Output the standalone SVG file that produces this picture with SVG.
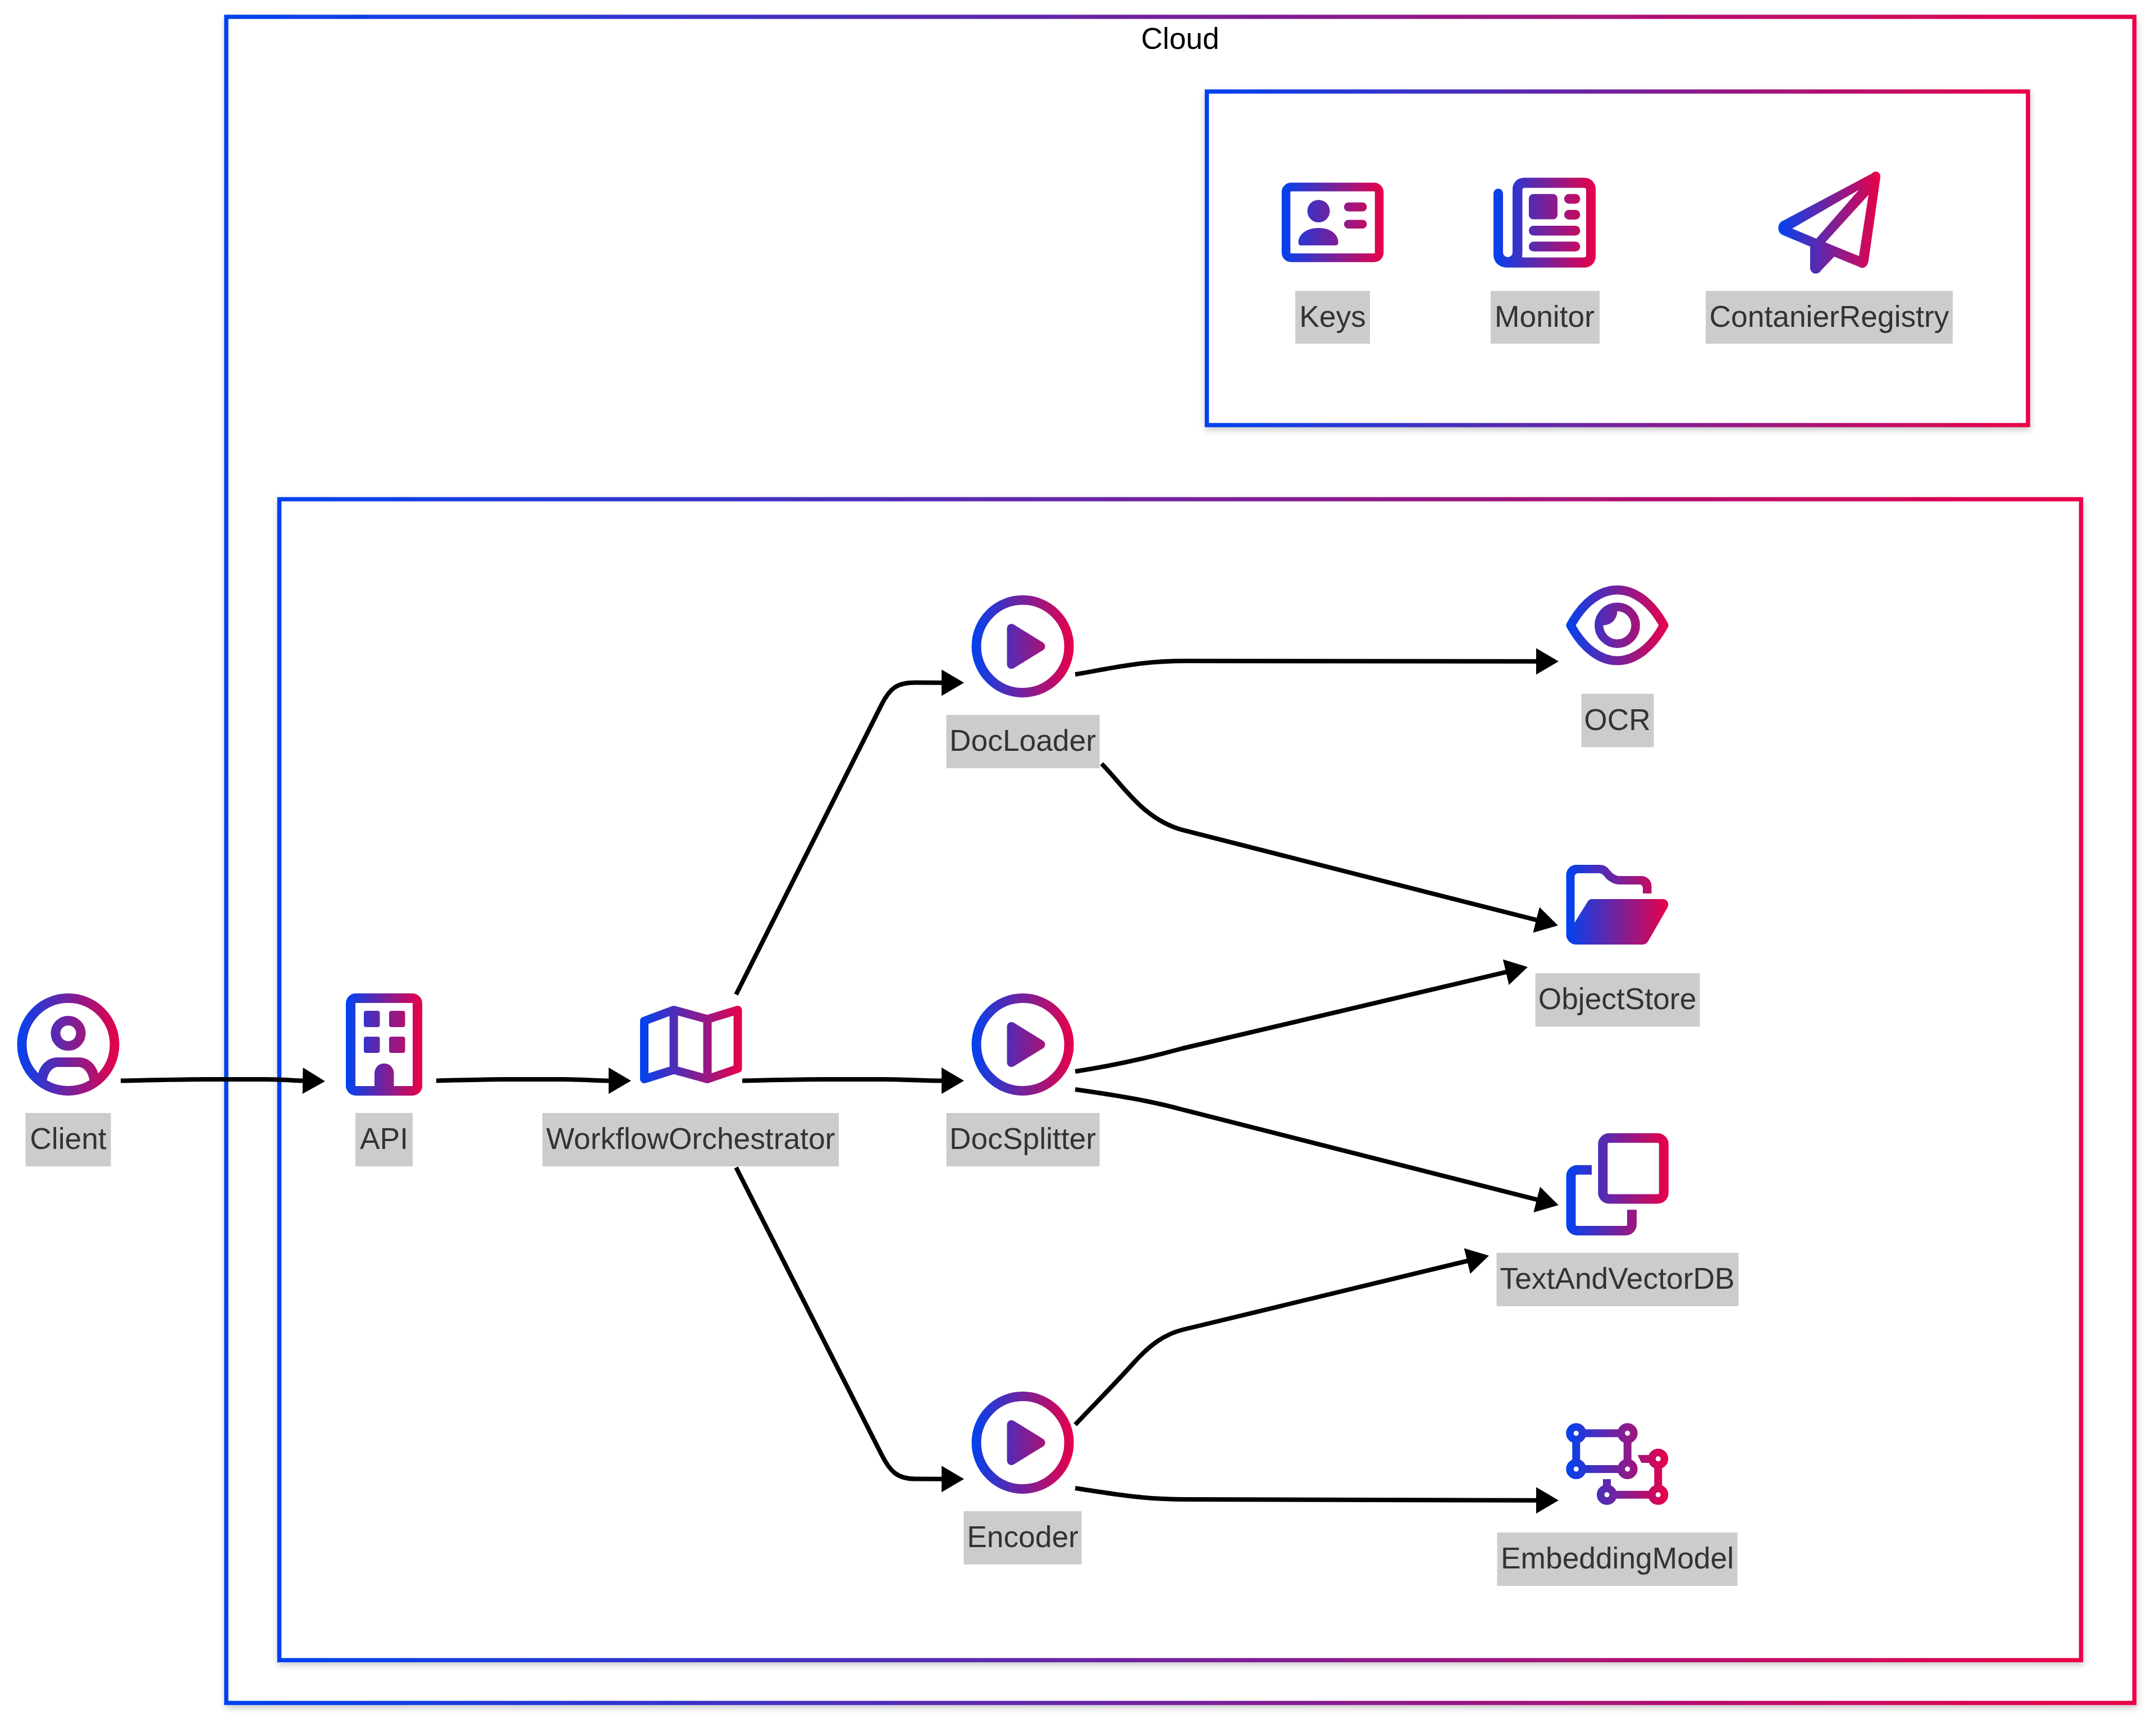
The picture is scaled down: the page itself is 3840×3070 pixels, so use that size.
<svg xmlns="http://www.w3.org/2000/svg" xmlns:xlink="http://www.w3.org/1999/xlink" width="3840" height="3070" viewBox="0 0 3840 3070">
<style>
text{font-family:"Liberation Sans",Arial,sans-serif;font-size:53.33px;text-anchor:middle}
.lb{fill:#ccc}
.lt{fill:#333}
.fr{fill:#fff;stroke:url(#fg);stroke-width:7.5;filter:url(#sh)}
.ed{fill:none;stroke:#000;stroke-width:8;marker-end:url(#ah)}
.s{fill:none;stroke:url(#g);stroke-width:17}
.f{fill:url(#g)}
.e{fill:url(#g);fill-rule:evenodd}
</style>
<defs>
<linearGradient id="fg" x1="0" y1="0" x2="1" y2="0"><stop offset="0" stop-color="#0043f0"/><stop offset="1" stop-color="#ea0048"/></linearGradient>
<linearGradient id="g" gradientUnits="userSpaceOnUse" x1="-91" y1="0" x2="91" y2="0" xlink:href="#fg"/>
<linearGradient id="ga" gradientUnits="userSpaceOnUse" x1="-68" y1="0" x2="68" y2="0" xlink:href="#fg"/>
<filter id="sh" x="-2%" y="-2%" width="104%" height="105%"><feDropShadow dx="1" dy="5" stdDeviation="6" flood-color="#000" flood-opacity=".22"/></filter>
<marker id="ah" markerUnits="userSpaceOnUse" markerWidth="42" markerHeight="48" refX="2" refY="24" orient="auto"><path d="M0 .5L40 24L0 47.500Z" fill="#000"/></marker>
<g id="play"><circle class="s" r="82.500"/><path class="f" d="M-20 -32L32 0L-20 32Z" stroke="url(#g)" stroke-width="16" stroke-linejoin="round"/></g>
</defs>
<rect width="3840" height="3070" fill="#fff"/>
<g id="frames">
<rect class="fr" x="403" y="30" width="3398.500" height="3002.500"/>
<rect class="fr" x="2149.500" y="163" width="1462.500" height="594"/>
<rect class="fr" x="497.500" y="889" width="3209" height="2067.300"/>
<text x="2102" y="86.500" fill="#000">Cloud</text>
</g>
<g id="connectors">
<path class="ed" d="M215 1924.500C270 1923.500 320 1922 370 1922L470 1922C500 1922 520 1924 541 1924.500"/>
<path class="ed" d="M777 1924.500C820 1923.500 860 1922 900 1922L1000 1922C1040 1922 1060 1924.500 1086 1924.500"/>
<path class="ed" d="M1322 1924.500C1370 1923.500 1420 1922 1470 1922L1570 1922C1610 1922 1640 1924.500 1679 1924.500"/>
<path class="ed" d="M1311 1771L1570 1255C1585 1225 1598 1215.500 1630 1215.500L1679 1215.700"/>
<path class="ed" d="M1311 2079L1570 2590C1585 2620 1598 2633.500 1630 2633.500L1679 2633.700"/>
<path class="ed" d="M1915 1201C1980 1190 2030 1177 2110 1177L2738 1177.700"/>
<path class="ed" d="M1962 1360C2002 1400 2035 1458 2106 1478L2738 1638.600"/>
<path class="ed" d="M1915 1908C1980 1898 2040 1885 2106 1867L2684 1730.700"/>
<path class="ed" d="M1915 1940C1985 1950 2050 1960 2110 1977L2739 2136.600"/>
<path class="ed" d="M1915 2537C1950 2500 1985 2465 2020 2426C2050 2393 2075 2376 2106 2368L2615 2245"/>
<path class="ed" d="M1915 2650C1985 2661 2040 2670 2110 2670L2738 2671.700"/>
</g>
<g id="Client" transform="translate(121.500 1860)">
<circle class="s" r="82.500"/><circle class="s" cy="-20" r="22.500"/>
<path class="f" d="M-54 54C-50 35 -35 23 -20 23H20C35 23 50 35 54 54L38 64C36 50 28 40 18 40H-18C-28 40 -36 50 -38 64Z"/>
<rect class="lb" x="-76" y="122" width="152" height="95"/><text class="lt" y="186">Client</text>
</g>
<g id="API" transform="translate(684 1860)">
<rect x="-59.500" y="-82.500" width="119" height="165" rx="9" fill="none" stroke="url(#ga)" stroke-width="17"/>
<g fill="url(#ga)">
<rect x="-36" y="-60" width="28.500" height="29" rx="4"/><rect x="9" y="-60" width="28.500" height="29" rx="4"/>
<rect x="-36" y="-14" width="28.500" height="29" rx="4"/><rect x="9" y="-14" width="28.500" height="29" rx="4"/>
<path d="M-17 82V51A17 17 0 0 1 17.500 51V82Z"/>
</g>
<rect class="lb" x="-51" y="122" width="102" height="95"/><text class="lt" y="186">API</text>
</g>
<g id="WorkflowOrchestrator" transform="translate(1231 1860)">
<path d="M-83.500 -42L-31 -61.500L29 -45L83 -61.500V43L29 61.500L-31 45L-83.500 61.500ZM-31 -61.500V45M29 -45V61.500" fill="none" stroke="url(#g)" stroke-width="15" stroke-linejoin="round"/>
<rect class="lb" x="-265" y="122" width="528" height="95"/><text class="lt" x="-1" y="186">WorkflowOrchestrator</text>
</g>
<g id="DocLoader" transform="translate(1821.500 1151)">
<use xlink:href="#play"/>
<rect class="lb" x="-136" y="122" width="273" height="95"/><text class="lt" y="186">DocLoader</text>
</g>
<g id="DocSplitter" transform="translate(1821.500 1860)">
<use xlink:href="#play"/>
<rect class="lb" x="-136" y="122" width="273" height="95"/><text class="lt" y="186">DocSplitter</text>
</g>
<g id="Encoder" transform="translate(1821.500 2569)">
<use xlink:href="#play"/>
<rect class="lb" x="-105" y="122" width="210" height="95"/><text class="lt" y="186">Encoder</text>
</g>
<g id="OCR" transform="translate(2880.500 1113.500)">
<path d="M-83 0C-60 -42 -30 -63 0 -63C30 -63 60 -42 83 0C60 42 30 63 0 63C-30 63 -60 42 -83 0Z" fill="none" stroke="url(#g)" stroke-width="16" stroke-linejoin="round"/>
<circle r="32.700" fill="none" stroke="url(#g)" stroke-width="15.500"/>
<path class="f" d="M-26 0A25 25 0 0 0 0 -26L-26 -26Z"/>
<rect class="lb" x="-64" y="122" width="129" height="95"/><text class="lt" y="186">OCR</text>
</g>
<g id="ObjectStore" transform="translate(2880.500 1611)">
<path class="f" d="M-91 -53A18 18 0 0 1 -73 -71H-32C-22 -71 -18 -67 -14 -62C-10 -57 -4 -51 4 -51H43A18 18 0 0 1 61 -33V-20H45.500V-30A6 6 0 0 0 39.500 -36H4C-6 -36 -14 -41 -20 -47C-24 -52 -27 -56 -32 -56H-70A6 6 0 0 0 -76 -50V32L-53 -5A9 9 0 0 1 -46 -10H81C89 -10 93 -2 89.500 5L55 65A12 12 0 0 1 46 71H-73A18 18 0 0 1 -91 53Z"/>
<rect class="lb" x="-146" y="122" width="293" height="95"/><text class="lt" y="186">ObjectStore</text>
</g>
<g id="TextAndVectorDB" transform="translate(2880.500 2109)">
<rect class="s" x="-25.700" y="-82.500" width="108.500" height="108.500" rx="11"/>
<path class="s" d="M-45.500 -25.700H-71.500A11 11 0 0 0 -82.500 -14.700V71.500A11 11 0 0 0 -71.500 82.500H15A11 11 0 0 0 26 71.500V45.300"/>
<rect class="lb" x="-215" y="122" width="431" height="95"/><text class="lt" y="186">TextAndVectorDB</text>
</g>
<g id="EmbeddingModel" transform="translate(2880.500 2607)">
<path d="M-73.200 -54.700H18.200V9H-73.200ZM-18.500 27V54.700H72.800V-9.300" fill="none" stroke="url(#g)" stroke-width="14"/>
<path class="f" d="M36.200 -16H60V-2H43Z"/>
<g fill="#fff" stroke="url(#g)" stroke-width="13.500">
<circle cx="-73.200" cy="-54.700" r="11.250"/><circle cx="18.200" cy="-54.700" r="11.250"/><circle cx="-73.200" cy="9" r="11.250"/><circle cx="18.200" cy="9" r="11.250"/>
<circle cx="-18.500" cy="54.700" r="11.250"/><circle cx="72.800" cy="-9.300" r="11.250"/><circle cx="72.800" cy="54.700" r="11.250"/>
</g>
<rect class="lb" x="-214" y="122" width="428" height="95"/><text class="lt" y="186">EmbeddingModel</text>
</g>
<g id="Keys" transform="translate(2373.500 396)">
<rect class="s" x="-83" y="-63" width="166" height="126" rx="9" style="stroke-width:15.500"/>
<circle class="f" cx="-25" cy="-20" r="20"/>
<path class="f" d="M-61 36C-61 20 -45 10 -25 10C-5 10 10 20 10 36C10 39 8 41 5 41H-56C-59 41 -61 39 -61 36Z"/>
<rect class="f" x="20.300" y="-35.500" width="40.700" height="16" rx="8"/><rect class="f" x="20.300" y="-4.600" width="40.700" height="15.500" rx="7.700"/>
<rect class="lb" x="-66.500" y="122" width="133" height="94"/><text class="lt" y="186">Keys</text>
</g>
<g id="Monitor" transform="translate(2751 396.500)">
<path class="e" d="M-91 -52A8.500 8.500 0 0 1 -74 -52V53A8.500 8.500 0 0 0 -57 53V-60A20 20 0 0 1 -37 -80H71A20 20 0 0 1 91 -60V60A20 20 0 0 1 71 80H-66C-80 80 -91 71 -91 57ZM-40 62H70A4 4 0 0 0 74 58V-58A4 4 0 0 0 70 -62H-35.500A4 4 0 0 0 -39.500 -58V53C-39.500 56 -39.800 59 -40 62Z"/>
<rect class="f" x="-28" y="-51" width="51" height="45" rx="8"/>
<rect class="f" x="35" y="-51" width="28.400" height="17.200" rx="8.500"/><rect class="f" x="35" y="-22.800" width="28.400" height="17.200" rx="8.500"/>
<rect class="f" x="-28" y="5.500" width="91.400" height="17.500" rx="8.500"/><rect class="f" x="-28" y="33.700" width="91.400" height="17.500" rx="8.500"/>
<rect class="lb" x="-96" y="121.500" width="194" height="94"/><text class="lt" y="185.500">Monitor</text>
</g>
<g id="ContanierRegistry" transform="translate(3258 396)">
<path class="e" d="M76 -87C82 -94 92 -90 91 -80L70 68C68 80 60 84 53 79L9 61L-15 86C-18 93 -32 94 -34 82L-34 43L-84 22C-92 18 -93 6 -86 -1ZM-66 11L53 -58L-23 29ZM70 -49L53 60L-7 35.500Z"/>
<rect class="lb" x="-220" y="122" width="440" height="94"/><text class="lt" y="186">ContanierRegistry</text>
</g>
</svg>
